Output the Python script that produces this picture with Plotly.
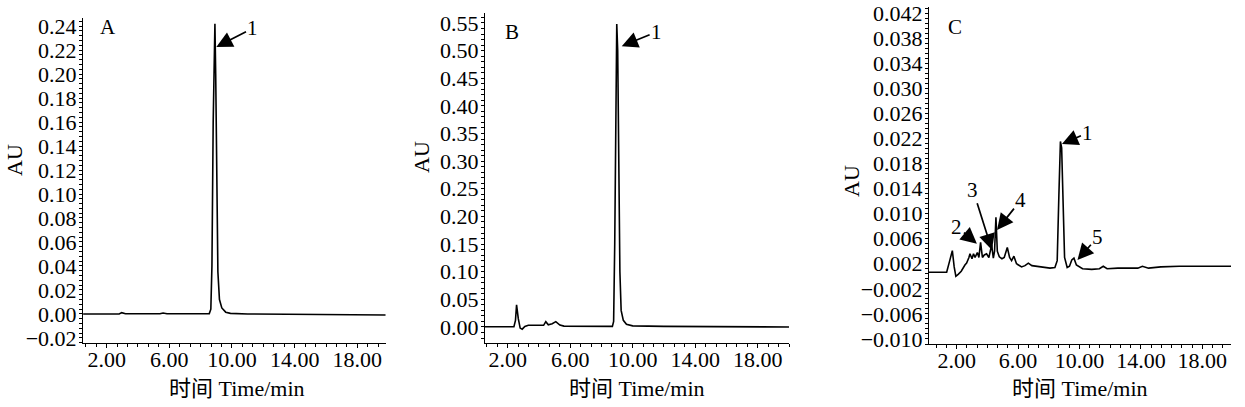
import plotly.graph_objects as go

# panel A - standard
time_a = [0.5, 2.8, 2.96, 3.2, 5.4, 5.6, 5.85, 8.55, 8.65, 8.72, 8.8, 8.87, 8.91,
          8.96, 9.02, 9.1, 9.2, 9.35, 9.6, 9.9, 11.0, 15.0, 19.8]
au_a = [0.0, 0.0, 0.0011, 0.0002, 0.0002, 0.0008, 0.0002, 0.0003, 0.004, 0.04, 0.16,
        0.235, 0.242, 0.20, 0.10, 0.035, 0.012, 0.005, 0.0015, 0.0005, 0.0, -0.0005, -0.0008]

# panel B - spiked sample
time_b = [0.55, 2.4, 2.5, 2.57, 2.68, 2.8, 2.93, 3.1, 3.32, 4.1, 4.3, 4.44, 4.6, 4.85,
          5.08, 5.34, 5.6, 8.7, 8.78, 8.85, 8.92, 8.98, 9.04, 9.1, 9.18, 9.26, 9.4, 9.6,
          10.0, 12.0, 16.0, 20.0]
au_b = [0.0005, 0.0005, 0.012, 0.040, 0.015, -0.002, -0.004, 0.001, 0.003, 0.002, 0.003,
        0.0096, 0.004, 0.006, 0.0096, 0.0035, 0.0015, 0.001, 0.01, 0.15, 0.45, 0.548, 0.50,
        0.30, 0.10, 0.03, 0.012, 0.005, 0.002, 0.001, 0.0005, 0.0]

# panel C - sample
time_c = [0.2, 1.35, 1.55, 1.72, 1.84, 1.95, 2.1, 2.3, 2.54, 2.65, 2.8, 2.87, 3.0, 3.1,
          3.2, 3.35, 3.45, 3.56, 3.68, 3.8, 3.95, 4.1, 4.28, 4.39, 4.47, 4.56, 4.65, 4.78,
          4.95, 5.1, 5.3, 5.45, 5.58, 5.73, 5.9, 6.23, 6.45, 6.67, 6.9, 7.4, 8.08, 8.4,
          8.55, 8.66, 8.76, 8.84, 8.93, 9.03, 9.2, 9.35, 9.5, 9.64, 9.8, 10.2, 10.8, 11.3,
          11.55, 11.8, 12.5, 13.3, 13.8, 14.1, 14.5, 15.3, 16.5, 18.0, 19.9]
au_c = [0.00064, 0.00064, 0.0025, 0.0041, 0.0015, 0.0000, 0.0003, 0.0008, 0.0018, 0.0021,
        0.0030, 0.0036, 0.0028, 0.0036, 0.0030, 0.0038, 0.0030, 0.0054, 0.0030, 0.0034,
        0.0036, 0.0030, 0.0050, 0.0029, 0.0040, 0.0094, 0.0040, 0.0031, 0.0028, 0.0030,
        0.0046, 0.0030, 0.0025, 0.0032, 0.0020, 0.0015, 0.0017, 0.0021, 0.0017, 0.0015,
        0.0013, 0.0014, 0.0025, 0.0130, 0.0215, 0.0205, 0.0100, 0.0030, 0.0014, 0.0016,
        0.0026, 0.0029, 0.0018, 0.0012, 0.0011, 0.0012, 0.0016, 0.0012, 0.0013, 0.0013,
        0.0013, 0.0016, 0.0013, 0.0015, 0.0016, 0.0016, 0.0016]

x_ticks = [2, 6, 10, 14, 18]
FONT = "Liberation Serif, Noto Sans CJK SC, serif"
W, H = 1245, 407


def px_x(p):
    return p / W


def px_y(p):
    return 1 - p / H


fig = go.Figure()
fig.add_trace(go.Scatter(x=time_a, y=au_a, mode="lines", line=dict(color="black", width=1.6),
                         xaxis="x", yaxis="y"))
fig.add_trace(go.Scatter(x=time_b, y=au_b, mode="lines", line=dict(color="black", width=1.6),
                         xaxis="x2", yaxis="y2"))
fig.add_trace(go.Scatter(x=time_c, y=au_c, mode="lines", line=dict(color="black", width=1.6),
                         xaxis="x3", yaxis="y3"))


def xaxis(dom, rng, anchor):
    return dict(domain=dom, range=rng, anchor=anchor, tickmode="array", tickvals=x_ticks,
                tickformat=".2f", showline=True, linecolor="black", linewidth=1,
                ticks="outside", ticklen=4, tickcolor="black", showgrid=False, zeroline=False,
                automargin=False, ticklabelstandoff=-7,
                tickfont=dict(family=FONT, size=22, color="black"),
                minor=dict(ticks="outside", ticklen=3, tickcolor="black", tick0=2, dtick=4 / 6,
                           showgrid=False))


def yaxis(dom, rng, anchor, tick0, dtick, minor_dtick, fmt):
    return dict(domain=dom, range=rng, anchor=anchor, tick0=tick0, dtick=dtick,
                tickformat=fmt, showline=True, linecolor="black", linewidth=1,
                ticks="outside", ticklen=3, tickcolor="black", showgrid=False, zeroline=False,
                automargin=False, ticklabelstandoff=-2,
                tickfont=dict(family=FONT, size=22, color="black"),
                minor=dict(ticks="outside", ticklen=3, tickcolor="black", tick0=tick0,
                           dtick=minor_dtick, showgrid=False))


fig.update_layout(
    width=W, height=H, margin=dict(l=0, r=0, t=0, b=0),
    paper_bgcolor="white", plot_bgcolor="white", showlegend=False,
    font=dict(family=FONT, color="black"),
    xaxis=xaxis([px_x(83), px_x(386)], [0.49, 19.83], "y"),
    yaxis=yaxis([px_y(343), px_y(18)], [-0.0242, 0.2467], "x", 0, 0.02, 0.004, ".2f"),
    xaxis2=xaxis([px_x(485), px_x(789)], [0.55, 20.0], "y2"),
    yaxis2=yaxis([px_y(343), px_y(13)], [-0.029, 0.568], "x2", 0, 0.05, 0.01, ".2f"),
    xaxis3=xaxis([px_x(929), px_x(1231)], [0.2, 19.87], "y3"),
    yaxis3=yaxis([px_y(344), px_y(7)], [-0.0108, 0.04296], "x3", -0.010, 0.004, 0.0008, ".3f"),
)

ann = []
# axis titles
for cx in (237, 637, 1080):
    ann.append(dict(text="时间 Time/min", x=px_x(cx), y=px_y(388), xref="paper", yref="paper",
                    xanchor="center", yanchor="middle", showarrow=False,
                    font=dict(family=FONT, size=22)))
for cx, cy in ((15, 160), (421, 157), (852, 181)):
    ann.append(dict(text="AU", x=px_x(cx), y=px_y(cy), xref="paper", yref="paper",
                    xanchor="center", yanchor="middle", showarrow=False, textangle=-90,
                    font=dict(family=FONT, size=22)))

# panel letters
for name, xr, yr, xv, yv in (("A", "x", "y", 2.09, 0.239), ("B", "x2", "y2", 2.27, 0.534),
                             ("C", "x3", "y3", 1.89, 0.0398)):
    ann.append(dict(text=name, x=xv, y=yv, xref=xr, yref=yr, showarrow=False,
                    font=dict(family=FONT, size=21)))

# peak labels with arrows: (label, axis, text pos, head pos)
peaks = [
    ("1", "", (11.34, 0.2383), (9.0, 0.2225)),
    ("1", "2", (11.53, 0.534), (9.3, 0.508)),
    ("1", "3", (10.55, 0.0229), (8.86, 0.0211)),
    ("2", "3", (2.02, 0.0079), (3.32, 0.0052)),
    ("3", "3", (3.06, 0.0138), (4.30, 0.0042)),
    ("4", "3", (6.19, 0.0122), (4.63, 0.0074)),
    ("5", "3", (11.2, 0.0063), (9.87, 0.0026)),
]
for lab, n, (tx, ty), (hx, hy) in peaks:
    ann.append(dict(text=lab, x=hx, y=hy, ax=tx, ay=ty, xref="x" + n, yref="y" + n,
                    axref="x" + n, ayref="y" + n, showarrow=True, arrowhead=2,
                    arrowsize=1.9, arrowwidth=1.7, arrowcolor="black",
                    font=dict(family=FONT, size=21)))

fig.update_layout(annotations=ann)
fig.write_html("out.html", config={"displayModeBar": False},
               post_script="document.body.style.margin = '0px';")
